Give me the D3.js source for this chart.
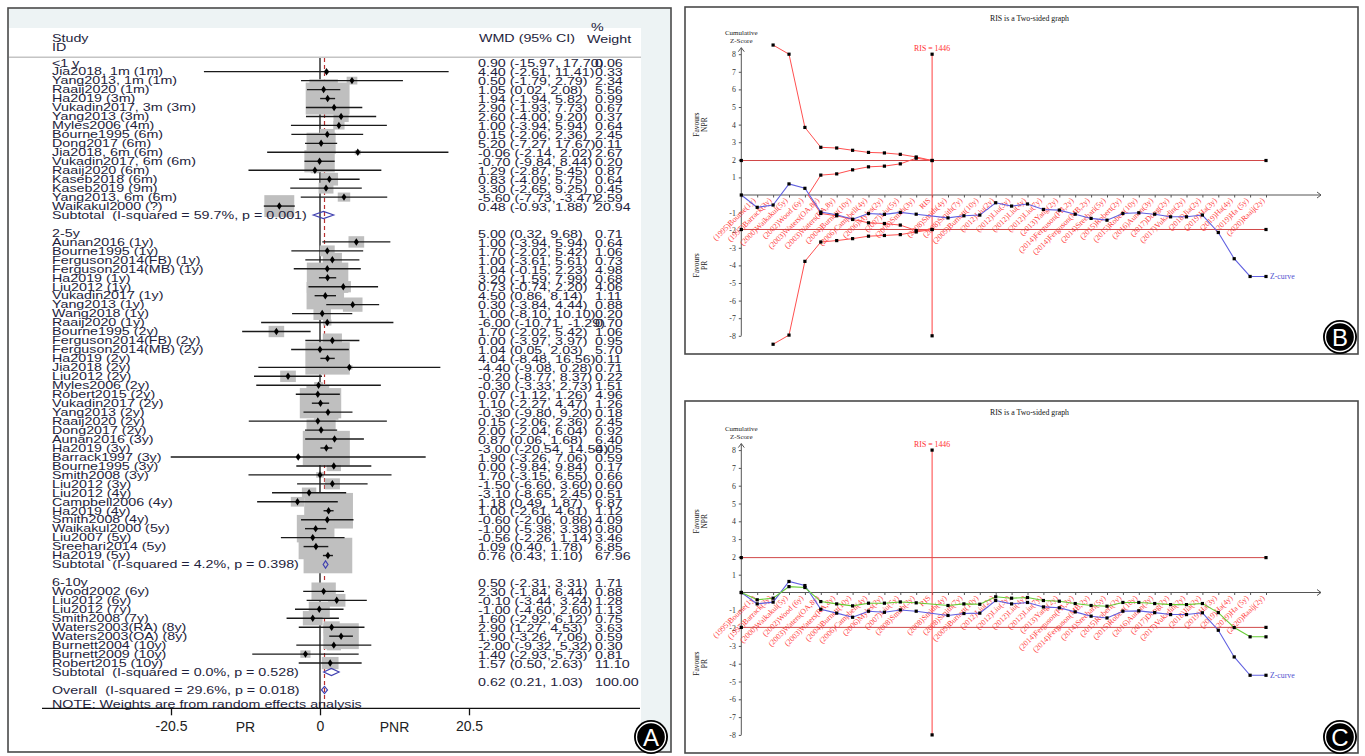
<!DOCTYPE html>
<html>
<head>
<meta charset="utf-8">
<script src="https://cdn.jsdelivr.net/npm/d3@7"></script>
<style>
  body { margin: 0; background: #fff; }
  svg { display: block; }
  .fp text { font-family: "Liberation Sans", Arial, sans-serif; white-space: pre; }
  .tsa text { font-family: "Liberation Serif", "Times New Roman", serif; }
</style>
</head>
<body>
<svg id="chart" width="1365" height="756"></svg>
<script>
// ---------- Panel A : forest plot data ----------
var groupNames = ["<1 y", "2-5y", "6-10y"];

var studiesLt1 = ["Jia2018, 1m (1m)", "Yang2013, 1m (1m)", "Raaij2020 (1m)", "Ha2019 (3m)",
  "Vukadin2017, 3m (3m)", "Yang2013 (3m)", "Myles2006 (4m)", "Bourne1995 (6m)", "Dong2017 (6m)",
  "Jia2018, 6m (6m)", "Vukadin2017, 6m (6m)", "Raaij2020 (6m)", "Kaseb2018 (6m)", "Kaseb2019 (9m)",
  "Yang2013, 6m (6m)", "Waikakul2000 (?)"];
var wmdLt1 = [0.90, 4.40, 0.50, 1.05, 1.94, 2.90, 2.60, 1.00, 0.15, 5.20, -0.06, -0.70, 1.29, 0.83, 3.30, -5.60];
var lowLt1 = [-15.97, -2.61, -1.79, 0.02, -1.94, -1.93, -4.00, -3.94, -2.06, -7.27, -2.14, -9.84, -2.87, -4.09, -2.65, -7.73];
var highLt1 = [17.70, 11.41, 2.79, 2.08, 5.82, 7.73, 9.20, 5.94, 2.36, 17.67, 2.02, 8.44, 5.45, 5.75, 9.25, -3.47];
var weightLt1 = [0.06, 0.33, 2.34, 5.56, 0.99, 0.67, 0.37, 0.64, 2.45, 0.11, 2.67, 0.20, 0.87, 0.64, 0.45, 2.59];

var studiesMid = ["Aunan2016 (1y)", "Bourne1995 (1y)", "Ferguson2014(FB) (1y)", "Ferguson2014(MB) (1y)",
  "Ha2019 (1y)", "Liu2012 (1y)", "Vukadin2017 (1y)", "Yang2013 (1y)", "Wang2018 (1y)", "Raaij2020 (1y)",
  "Bourne1995 (2y)", "Ferguson2014(FB) (2y)", "Ferguson2014(MB) (2y)", "Ha2019 (2y)", "Jia2018 (2y)",
  "Liu2012 (2y)", "Myles2006 (2y)", "Robert2015 (2y)", "Vukadin2017 (2y)", "Yang2013 (2y)",
  "Raaij2020 (2y)", "Dong2017 (2y)", "Aunan2016 (3y)", "Ha2019 (3y)", "Barrack1997 (3y)",
  "Bourne1995 (3y)", "Smith2008 (3y)", "Liu2012 (3y)", "Liu2012 (4y)", "Campbell2006 (4y)",
  "Ha2019 (4y)", "Smith2008 (4y)", "Waikakul2000 (5y)", "Liu2007 (5y)", "Sreehari2014 (5y)", "Ha2019 (5y)"];
var wmdMid = [5.00, 1.00, 1.70, 1.00, 1.04, 3.20, 0.73, 4.50, 0.30, 1.00,
  -6.00, 1.70, 0.00, 1.04, 4.04, -4.40, -0.20, -0.30, 0.07, 1.10,
  -0.30, 0.15, 2.00, 0.87, -3.00, 1.90, 0.00, 1.70, -1.50, -3.10,
  1.18, 1.00, -0.60, -1.00, -0.56, 1.09];
var lowMid = [0.32, -3.94, -2.02, -3.61, -0.15, -1.59, -0.74, 0.86, -3.84, -8.10,
  -10.71, -2.02, -3.97, 0.05, -8.48, -9.08, -8.77, -3.33, -1.12, -2.27,
  -9.80, -2.06, -2.04, 0.06, -20.54, -3.26, -9.84, -3.15, -6.60, -8.65,
  0.49, -2.61, -2.06, -5.38, -2.26, 0.40];
var highMid = [9.68, 5.94, 5.42, 5.61, 2.23, 7.99, 2.20, 8.14, 4.44, 10.10,
  -1.29, 5.42, 3.97, 2.03, 16.56, 0.28, 8.37, 2.73, 1.26, 4.47,
  9.20, 2.36, 6.04, 1.68, 14.54, 7.06, 9.84, 6.55, 3.60, 2.45,
  1.87, 4.61, 0.86, 3.38, 1.14, 1.78];
var weightMid = [0.71, 0.64, 1.06, 0.73, 4.98, 0.68, 4.06, 1.11, 0.88, 0.20,
  0.70, 1.06, 0.95, 5.70, 0.11, 0.71, 0.22, 1.51, 4.96, 1.26,
  0.18, 2.45, 0.92, 6.40, 0.05, 0.59, 0.17, 0.66, 0.60, 0.51,
  6.87, 1.12, 4.09, 0.80, 3.46, 6.85];

var studiesLate = ["Wood2002 (6y)", "Liu2012 (6y)", "Liu2012 (7y)", "Smith2008 (7y)",
  "Waters2003(RA) (8y)", "Waters2003(OA) (8y)", "Burnett2004 (10y)", "Burnett2009 (10y)", "Robert2015 (10y)"];
var wmdLate = [0.50, 2.30, -0.10, -1.00, 1.60, 2.90, 1.90, -2.00, 1.40];
var lowLate = [-2.31, -1.84, -3.44, -4.60, -2.92, 1.27, -3.26, -9.32, -2.93];
var highLate = [3.31, 6.44, 3.24, 2.60, 6.12, 4.53, 7.06, 5.32, 5.73];
var weightLate = [1.71, 0.88, 1.28, 1.13, 0.75, 3.63, 0.59, 0.30, 0.81];

var subtotalText = ["Subtotal  (I-squared = 59.7%, p = 0.001)",
  "Subtotal  (I-squared = 4.2%, p = 0.398)",
  "Subtotal  (I-squared = 0.0%, p = 0.528)"];
var subtotalWmd = [0.48, 0.76, 1.57];
var subtotalLow = [-0.93, 0.43, 0.50];
var subtotalHigh = [1.88, 1.10, 2.63];
var subtotalWeight = [20.94, 67.96, 11.10];

var overallText = "Overall  (I-squared = 29.6%, p = 0.018)";
var overallWmd = 0.62, overallLow = 0.21, overallHigh = 1.03, overallWeight = 100.00;
var noteText = "NOTE: Weights are from random effects analysis";

var axisTicks = [-20.5, 0, 20.5];
var sideLabels = ["PR", "PNR"];
var sideAt = [-10.25, 10.25];

// ---------- Panels B, C : trial sequential analysis data ----------
var tsaTitle = "RIS is a Two-sided graph";
var risText = "RIS = 1446";
var risSlot = 12;
var tsaLabels = ["(1995)Bourne(1y)", "(1997)Barrack(3y)", "(2000)Waikakul(5y)", "(2002)Wood (6y)",
  "(2003)Waters(OA,8y)", "(2003)Waters(RA,8y)", "(2004)Burnett(10y)", "(2006)Campbell(4y)",
  "(2006)Myles(2y)", "(2007)Liu(5y)", "(2008)Smith(3y)", "RIS", "(2008)Smith(4y)", "(2008)Smith(7y)",
  "(2009)Burnett(10y)", "(2012)Liu(2y)", "(2012)Liu(3y)", "(2012)Liu(4y)", "(2012)Liu(7y)",
  "(2013)Yang(2y)", "(2014)Ferguson(FB,2y)", "(2014)Ferguson(MB,2y)", "(2014)Sreehari(5y)",
  "(2015)Robert(2y)", "(2015)Robert(10y)", "(2016)Aunan(3y)", "(2017)Dong(2y)", "(2017)Vukadin(2y)",
  "(2018)Jia(2y)", "(2019)Ha(3y)", "(2019)Ha(4y)", "(2019)Ha (5y)", "(2020)Raaij(2y)"];

var zTicks = [-8, -7, -6, -5, -4, -3, -2, -1, 1, 2, 3, 4, 5, 6, 7, 8];
var conventional = 1.96;

var zCurveB = [0, -0.70, -0.57, 0.63, 0.38, -0.97, -1.12, -1.38, -1.05, -1.10, -0.99, -1.09, null,
  -1.30, -1.18, -1.14, -0.44, -0.63, -0.51, -0.82, -0.86, -1.09, -1.33, -1.43, -1.05, -1.01,
  -1.09, -1.24, -1.24, -1.14, -2.13, -3.62, -4.63, -4.63];

var outerSlots = [2, 3, 4, 5, 6, 7, 8, 9, 10, 11, 12];
var upperOuter = [8.52, 8.00, 3.84, 2.71, 2.67, 2.54, 2.42, 2.39, 2.31, 2.16, 1.96];
var lowerOuter = [-8.48, -7.96, -3.77, -2.67, -2.59, -2.48, -2.34, -2.30, -2.25, -2.10, -1.96];
var innerSlots = [4.2, 5, 6, 7, 8, 9, 10, 11, 12];
var upperInner = [0, 1.13, 1.20, 1.43, 1.60, 1.64, 1.77, 2.09, 1.96];
var lowerInner = [0, -1.05, -1.18, -1.39, -1.58, -1.62, -1.71, -2.02, -1.96];

var zCurveC = [0, -0.64, -0.54, 0.62, 0.39, -0.94, -1.16, -1.39, -1.05, -1.11, -0.98, -1.05, null,
  -1.29, -1.18, -1.16, -0.45, -0.64, -0.56, -0.81, -0.86, -1.09, -1.33, -1.43, -1.05, -1.03,
  -1.13, -1.24, -1.24, -1.14, -2.12, -3.62, -4.65, -4.65];
var greenCurveC = [0, -0.41, -0.32, 0.33, 0.28, -0.51, -0.64, -0.75, -0.60, -0.60, -0.53, -0.58, null,
  -0.73, -0.64, -0.66, -0.24, -0.32, -0.28, -0.45, -0.49, -0.62, -0.73, -0.77, -0.56, -0.56,
  -0.62, -0.68, -0.68, -0.62, -1.13, -1.97, -2.49, -2.49];

var svg = d3.select("#chart");
// plain hyphen for negatives, as in the original
var loc = d3.formatLocale({decimal: ".", thousands: ",", grouping: [3], currency: ["", ""], minus: "-"});
var f2 = loc.format(".2f");

// =====================================================================
// Panel A
// =====================================================================
var fp = svg.append("g").attr("class", "fp");

fp.append("rect").attr("x", 8).attr("y", 8).attr("width", 663).attr("height", 744)
  .attr("fill", "#edf3f4").attr("stroke", "#4a4a4a").attr("stroke-width", 1.6);
fp.append("rect").attr("x", 9).attr("y", 28).attr("width", 632).attr("height", 723)
  .attr("fill", "#fff");

var groups = [
  {name: groupNames[0], s: studiesLt1, e: wmdLt1, lo: lowLt1, hi: highLt1, w: weightLt1},
  {name: groupNames[1], s: studiesMid, e: wmdMid, lo: lowMid, hi: highMid, w: weightMid},
  {name: groupNames[2], s: studiesLate, e: wmdLate, lo: lowLate, hi: highLate, w: weightLate}
];

var rows = [];
var r = 0;
groups.forEach(function(g, gi) {
  rows.push({kind: "head", text: g.name, row: r++});
  g.s.forEach(function(name, i) {
    rows.push({kind: "study", text: name, est: g.e[i], lo: g.lo[i], hi: g.hi[i], w: g.w[i], row: r++});
  });
  rows.push({kind: "sub", text: subtotalText[gi], est: subtotalWmd[gi], lo: subtotalLow[gi],
    hi: subtotalHigh[gi], w: subtotalWeight[gi], row: r++});
  r++;
});
rows.push({kind: "sub", text: overallText, est: overallWmd, lo: overallLow, hi: overallHigh, w: overallWeight, row: r++});
rows.push({kind: "note", text: noteText, row: r});

var rowY = d3.scaleLinear().domain([0, 71]).range([62.7, 698.9]);
var xF = d3.scaleLinear().domain([-20.5, 20.5]).range([171, 469]);
var boxK = 18.6;   // box width per sqrt(weight)
var squash = 0.73; // the panel is compressed vertically

var inkText = "#1e1e3c";
function sqText(sel, x, y, str, anchor) {
  return sel.append("text")
    .attr("transform", "translate(" + x + "," + y + ") scale(1," + squash + ")")
    .attr("text-anchor", anchor || "start")
    .attr("font-size", 14.3)
    .attr("fill", inkText)
    .text(str);
}

// header
sqText(fp, 52, 41.5, "Study");
sqText(fp, 52, 50.5, "ID");
sqText(fp, 479, 42, "WMD (95% CI)");
sqText(fp, 591, 30.5, "%");
sqText(fp, 587, 43, "Weight");
fp.append("line").attr("x1", 9).attr("x2", 641).attr("y1", 57.3).attr("y2", 57.3)
  .attr("stroke", "#c4c4c4").attr("stroke-width", 1.5);

// reference lines
var plotTop = 58, plotBottom = 708.3;
fp.append("line").attr("x1", xF(0)).attr("x2", xF(0)).attr("y1", plotTop).attr("y2", plotBottom)
  .attr("stroke", "#111").attr("stroke-width", 1.3);
fp.append("line").attr("x1", xF(overallWmd)).attr("x2", xF(overallWmd)).attr("y1", plotTop).attr("y2", plotBottom)
  .attr("stroke", "#b83030").attr("stroke-width", 1.2).attr("stroke-dasharray", "4,3");

var studyRows = rows.filter(function(d) { return d.kind === "study"; });

// weight boxes
fp.selectAll("rect.box").data(studyRows).enter().append("rect")
  .attr("class", "box")
  .attr("x", function(d) { return xF(d.est) - boxK * Math.sqrt(d.w) / 2; })
  .attr("y", function(d) { return rowY(d.row) - boxK * Math.sqrt(d.w) * squash / 2; })
  .attr("width", function(d) { return boxK * Math.sqrt(d.w); })
  .attr("height", function(d) { return boxK * Math.sqrt(d.w) * squash; })
  .attr("fill", "#bfbfbf");

// confidence intervals
fp.selectAll("line.ci").data(studyRows).enter().append("line")
  .attr("class", "ci")
  .attr("x1", function(d) { return xF(d.lo); })
  .attr("x2", function(d) { return xF(d.hi); })
  .attr("y1", function(d) { return rowY(d.row); })
  .attr("y2", function(d) { return rowY(d.row); })
  .attr("stroke", "#1a1a1a").attr("stroke-width", 1.4);

// point estimates
fp.selectAll("path.pt").data(studyRows).enter().append("path")
  .attr("class", "pt")
  .attr("d", d3.symbol(d3.symbolDiamond).size(16))
  .attr("transform", function(d) { return "translate(" + xF(d.est) + "," + rowY(d.row) + ") scale(1.15,1)"; })
  .attr("fill", "#000");

// pooled diamonds
var subRows = rows.filter(function(d) { return d.kind === "sub"; });
fp.selectAll("path.dia").data(subRows).enter().append("path")
  .attr("class", "dia")
  .attr("d", function(d) {
    var y = rowY(d.row), h = 3.6;
    return "M" + xF(d.lo) + "," + y + "L" + xF(d.est) + "," + (y - h) + "L" + xF(d.hi) + "," + y +
      "L" + xF(d.est) + "," + (y + h) + "Z";
  })
  .attr("fill", "none").attr("stroke", "#4040b0").attr("stroke-width", 1.2);

// labels and numbers
rows.forEach(function(d) {
  var y = rowY(d.row) + 3.8;
  if (d.kind === "note") y += 5;
  sqText(fp, 52, y, d.text);
  if (d.kind === "study" || d.kind === "sub") {
    var vy = rowY(d.row) - 8 + 3.8;
    sqText(fp, 478, vy, f2(d.est) + " (" + f2(d.lo) + ", " + f2(d.hi) + ")");
    sqText(fp, 595, vy, f2(d.w));
  }
});

// x axis
fp.append("line").attr("x1", 42).attr("x2", 640).attr("y1", plotBottom).attr("y2", plotBottom)
  .attr("stroke", "#111").attr("stroke-width", 1.3);
var fAxis = d3.axisBottom(xF).tickValues(axisTicks).tickSize(7).tickPadding(6).tickSizeOuter(0)
  .tickFormat(function(d) { return d === 0 ? "0" : String(d); });
var fa = fp.append("g").attr("transform", "translate(0," + plotBottom + ")").call(fAxis);
fa.select(".domain").remove();
fa.attr("font-family", "'Liberation Sans', Arial, sans-serif").attr("font-size", 14);
fa.selectAll("line").attr("stroke", "#111").attr("stroke-width", 1.3);
fa.selectAll("text").attr("fill", "#222");
sideLabels.forEach(function(t, i) {
  fp.append("text").attr("x", xF(sideAt[i])).attr("y", 731.5).attr("text-anchor", "middle")
    .attr("font-size", 14).attr("fill", "#222").text(t);
});

// =====================================================================
// Panels B and C
// =====================================================================
function drawTSA(cfg) {
  var g = svg.append("g").attr("class", "tsa");
  g.append("rect").attr("x", cfg.left).attr("y", cfg.top)
    .attr("width", cfg.right - cfg.left).attr("height", cfg.bottom - cfg.top)
    .attr("fill", "#fff").attr("stroke", "#4a4a4a").attr("stroke-width", 1.6);

  var x = d3.scaleLinear().domain([0, 33]).range([741.3, 1266]);
  var y = d3.scaleLinear().domain([-8, 8]).range([cfg.zeroY + 8 * cfg.unit, cfg.zeroY - 8 * cfg.unit]);
  var x0 = x(0), axisEnd = 1321;

  g.append("text").attr("x", 990).attr("y", cfg.top + 14).attr("font-size", 7.8).attr("fill", "#111")
    .text(tsaTitle);

  // y axis
  var ya = g.append("g").attr("transform", "translate(" + x0 + ",0)")
    .call(d3.axisLeft(y).tickValues(zTicks).tickSize(2.5).tickPadding(3).tickSizeOuter(0)
      .tickFormat(function(d) { return String(d); }));
  ya.select(".domain").remove();
  ya.attr("font-family", "'Liberation Serif', 'Times New Roman', serif").attr("font-size", 7.8);
  ya.selectAll("line").attr("stroke", "#555");
  ya.selectAll("text").attr("fill", "#333");
  var yTop = y(8) - 6.5;
  g.append("line").attr("x1", x0).attr("x2", x0).attr("y1", y(-8)).attr("y2", yTop)
    .attr("stroke", "#555").attr("stroke-width", 1);
  g.append("path").attr("d", "M" + (x0 - 3) + "," + (yTop + 4) + "L" + x0 + "," + yTop + "L" + (x0 + 3) + "," + (yTop + 4))
    .attr("fill", "none").attr("stroke", "#555");
  g.append("text").attr("x", x0).attr("y", y(8) - 19).attr("text-anchor", "middle").attr("font-size", 7)
    .attr("fill", "#222").text("Cumulative");
  g.append("text").attr("x", x0).attr("y", y(8) - 11.5).attr("text-anchor", "middle").attr("font-size", 7)
    .attr("fill", "#222").text("Z-Score");

  [["Favours", "NPR", 4], ["Favours", "PR", -4]].forEach(function(f) {
    g.append("text").attr("transform", "translate(699," + y(f[2]) + ") rotate(-90)")
      .attr("text-anchor", "middle").attr("font-size", 7.5).attr("fill", "#222").text(f[0]);
    g.append("text").attr("transform", "translate(707," + y(f[2]) + ") rotate(-90)")
      .attr("text-anchor", "middle").attr("font-size", 7.5).attr("fill", "#222").text(f[1]);
  });

  // x axis
  var xa = g.append("g").attr("transform", "translate(0," + cfg.zeroY + ")")
    .call(d3.axisBottom(x).tickValues(d3.range(0, 34)).tickSize(2.5).tickFormat("").tickSizeOuter(0));
  xa.select(".domain").remove();
  xa.selectAll("line").attr("stroke", "#555");
  g.append("line").attr("x1", x0).attr("x2", axisEnd).attr("y1", cfg.zeroY).attr("y2", cfg.zeroY)
    .attr("stroke", "#555");
  g.append("path").attr("d", "M" + (axisEnd - 4) + "," + (cfg.zeroY - 3) + "L" + axisEnd + "," + cfg.zeroY +
      "L" + (axisEnd - 4) + "," + (cfg.zeroY + 3))
    .attr("fill", "none").attr("stroke", "#555");

  tsaLabels.forEach(function(t, i) {
    g.append("text")
      .attr("transform", "translate(" + (x(i + 1) - 1) + "," + (cfg.zeroY + 6) + ") rotate(-45)")
      .attr("text-anchor", "end").attr("font-size", 7.8).attr("fill", "#ff3a3a").text(t);
  });

  var line = d3.line().x(function(d) { return x(d[0]); }).y(function(d) { return y(d[1]); });
  function pairs(slots, vals) {
    return vals.map(function(v, i) { return [slots[i], v]; }).filter(function(d) { return d[1] !== null; });
  }
  function seq(vals) {
    return pairs(d3.range(vals.length), vals);
  }
  var dots = [];

  // conventional boundaries
  [conventional, -conventional].forEach(function(v) {
    var p = [[0, v], [33, v]];
    g.append("path").attr("d", line(p)).attr("fill", "none").attr("stroke", "#d04848").attr("stroke-width", 1);
    dots = dots.concat(p);
  });

  // required information size
  var risLine = [[risSlot, 8], [risSlot, -8]];
  g.append("path").attr("d", line(risLine)).attr("stroke", "#ff4040").attr("stroke-width", 1);
  dots = dots.concat(risLine);
  g.append("text").attr("x", x(risSlot)).attr("y", y(8) - 3.5).attr("text-anchor", "middle")
    .attr("font-size", 7.8).attr("fill", "#ff3030").text(risText);

  if (cfg.bounds) {
    [[outerSlots, upperOuter], [outerSlots, lowerOuter], [innerSlots, upperInner], [innerSlots, lowerInner]]
      .forEach(function(b, bi) {
        var p = pairs(b[0], b[1]);
        g.append("path").attr("d", line(p)).attr("fill", "none").attr("stroke", "#ff5050").attr("stroke-width", 1);
        dots = dots.concat(bi < 2 ? p : p.slice(1));
      });
  }

  cfg.curves.forEach(function(c) {
    var p = seq(c.values);
    g.append("path").attr("d", line(p)).attr("fill", "none")
      .attr("stroke", c.color).attr("stroke-width", 1.1);
    dots = dots.concat(p);
  });

  g.selectAll("rect.dot").data(dots).enter().append("rect")
    .attr("x", function(d) { return x(d[0]) - 1.6; })
    .attr("y", function(d) { return y(d[1]) - 1.6; })
    .attr("width", 3.2).attr("height", 3.2).attr("fill", "#000");

  var zc = cfg.curves[0].values;
  g.append("text").attr("x", x(33) + 4).attr("y", y(zc[33]) + 2.5).attr("font-size", 7.8)
    .attr("fill", "#5050d0").text("Z-curve");
}

drawTSA({left: 685, top: 7, right: 1358, bottom: 354, zeroY: 195, unit: 17.6, bounds: true,
  curves: [{values: zCurveB, color: "#6060e0"}]});
drawTSA({left: 685, top: 401, right: 1358, bottom: 753, zeroY: 592.5, unit: 17.8, bounds: false,
  curves: [{values: zCurveC, color: "#6060e0"}, {values: greenCurveC, color: "#66cc33"}]});

// panel letters
[["A", 651, 737], ["B", 1340, 337], ["C", 1340, 737]].forEach(function(p) {
  var g = svg.append("g").attr("transform", "translate(" + p[1] + "," + p[2] + ")");
  g.append("circle").attr("r", 17).attr("fill", "#000");
  g.append("circle").attr("r", 14.5).attr("fill", "none").attr("stroke", "#fff").attr("stroke-width", 1.3);
  g.append("text").attr("text-anchor", "middle").attr("y", 8.5).attr("font-size", 24)
    .attr("font-family", "'Liberation Sans', Arial, sans-serif").attr("fill", "#fff").text(p[0]);
});
</script>
</body>
</html>
